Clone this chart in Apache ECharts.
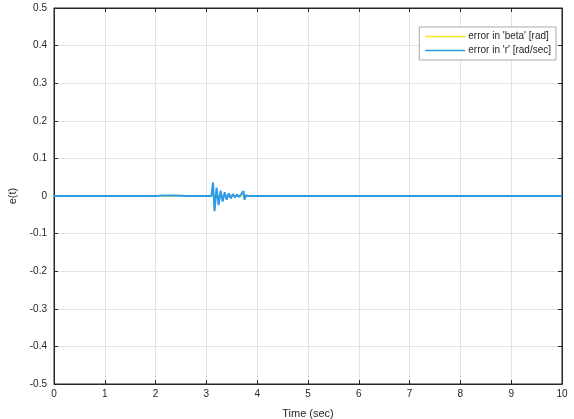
<!DOCTYPE html>
<html>
<head>
<meta charset="utf-8">
<script src="https://cdn.jsdelivr.net/npm/echarts@6/dist/echarts.min.js"></script>
<style>
  html, body { margin: 0; padding: 0; background: #fff; }
  #chart { width: 574px; height: 419px; }
</style>
</head>
<body>
<div id="chart"></div>
<script>
// Tracking error over time for the two states
var xTicks = [0, 1, 2, 3, 4, 5, 6, 7, 8, 9, 10];
var yTicks = [-0.5, -0.4, -0.3, -0.2, -0.1, 0, 0.1, 0.2, 0.3, 0.4, 0.5];

// error in 'beta' [rad]
var betaTime  = [0, 2.0, 3.1, 3.2, 3.4, 3.7, 10];
var betaError = [0, 0, 0, 0.001, -0.001, 0, 0];

// error in 'r' [rad/sec]
var rTime  = [0, 2.0, 2.1, 2.4, 2.6, 3.10, 3.13, 3.16, 3.20, 3.24, 3.28, 3.32, 3.36, 3.40,
              3.44, 3.48, 3.52, 3.56, 3.60, 3.64, 3.68, 3.71, 3.73, 3.75, 3.78, 3.82, 10];
var rError = [0, 0, 0.001, 0.001, 0, 0, 0.036, -0.040, 0.022, -0.024, 0.014, -0.015, 0.010, -0.010,
              0.007, -0.006, 0.005, -0.004, 0.004, -0.002, 0.003, 0.006, 0.013, -0.010, 0.002, 0, 0];

function pairs(xs, ys) {
  return xs.map(function (x, i) { return [x, ys[i]]; });
}

var textColor = '#262626';
var font = 'Liberation Sans, Arial, sans-serif';
var lineCommon = { show: true, onZero: false, lineStyle: { color: '#262626', width: 1 } };
var tickCommon = { show: true, inside: true, length: 4, lineStyle: { color: '#262626' } };
var gridLines = { show: true, lineStyle: { color: '#e3e3e3', width: 1 } };

var chart = echarts.init(document.getElementById('chart'), null, { renderer: 'canvas' });
chart.setOption({
  animation: false,
  backgroundColor: '#ffffff',
  grid: { left: 54, right: 12, top: 8, bottom: 35, outerBoundsMode: 'none', containLabel: false,
    show: true, borderColor: '#262626', borderWidth: 1, backgroundColor: '#ffffff' },
  legend: {
    orient: 'vertical',
    right: 18,
    top: 27,
    icon: 'rect',
    itemWidth: 40,
    itemHeight: 1.5,
    itemGap: 3,
    padding: [4, 5, 4, 6],
    backgroundColor: '#ffffff',
    borderColor: '#a8a8a8',
    borderWidth: 1,
    borderRadius: 0,
    textStyle: { fontFamily: font, fontSize: 10, lineHeight: 11, color: textColor, padding: [0, 0, 0, -2] },
    data: ["error in 'beta' [rad]", "error in 'r' [rad/sec]"]
  },
  xAxis: [{
    type: 'value', min: 0, max: 10, interval: 1,
    name: 'Time (sec)', nameLocation: 'middle', nameGap: 24,
    nameTextStyle: { fontFamily: font, fontSize: 11, color: textColor },
    axisLabel: { fontFamily: font, fontSize: 10, color: textColor, margin: 5,
      formatter: function (v) { return xTicks.indexOf(v) >= 0 ? String(v) : ''; } },
    axisLine: lineCommon, axisTick: tickCommon, splitLine: gridLines
  }, {
    type: 'value', min: 0, max: 10, interval: 1, position: 'top',
    axisLabel: { show: false },
    axisLine: lineCommon, axisTick: tickCommon, splitLine: { show: false }
  }],
  yAxis: [{
    type: 'value', min: -0.5, max: 0.5, interval: 0.1,
    name: 'e(t)', nameLocation: 'middle', nameGap: 36, nameRotate: 90,
    nameTextStyle: { fontFamily: font, fontSize: 11, color: textColor },
    axisLabel: { fontFamily: font, fontSize: 10, color: textColor, margin: 7,
      formatter: function (v) {
        var r = Math.round(v * 10) / 10;
        return yTicks.indexOf(r) >= 0 ? String(r) : '';
      } },
    axisLine: lineCommon, axisTick: tickCommon, splitLine: gridLines
  }, {
    type: 'value', min: -0.5, max: 0.5, interval: 0.1, position: 'right',
    axisLabel: { show: false },
    axisLine: lineCommon, axisTick: tickCommon, splitLine: { show: false }
  }],
  series: [{
    name: "error in 'beta' [rad]",
    type: 'line',
    data: pairs(betaTime, betaError),
    showSymbol: false,
    symbol: 'none',
    color: '#f2e41f',
    lineStyle: { color: '#f2e41f', width: 1 }
  }, {
    name: "error in 'r' [rad/sec]",
    type: 'line',
    data: pairs(rTime, rError),
    showSymbol: false,
    symbol: 'none',
    color: '#2d9ae8',
    lineStyle: { color: '#2d9ae8', width: 2 }
  }]
});
</script>
</body>
</html>
